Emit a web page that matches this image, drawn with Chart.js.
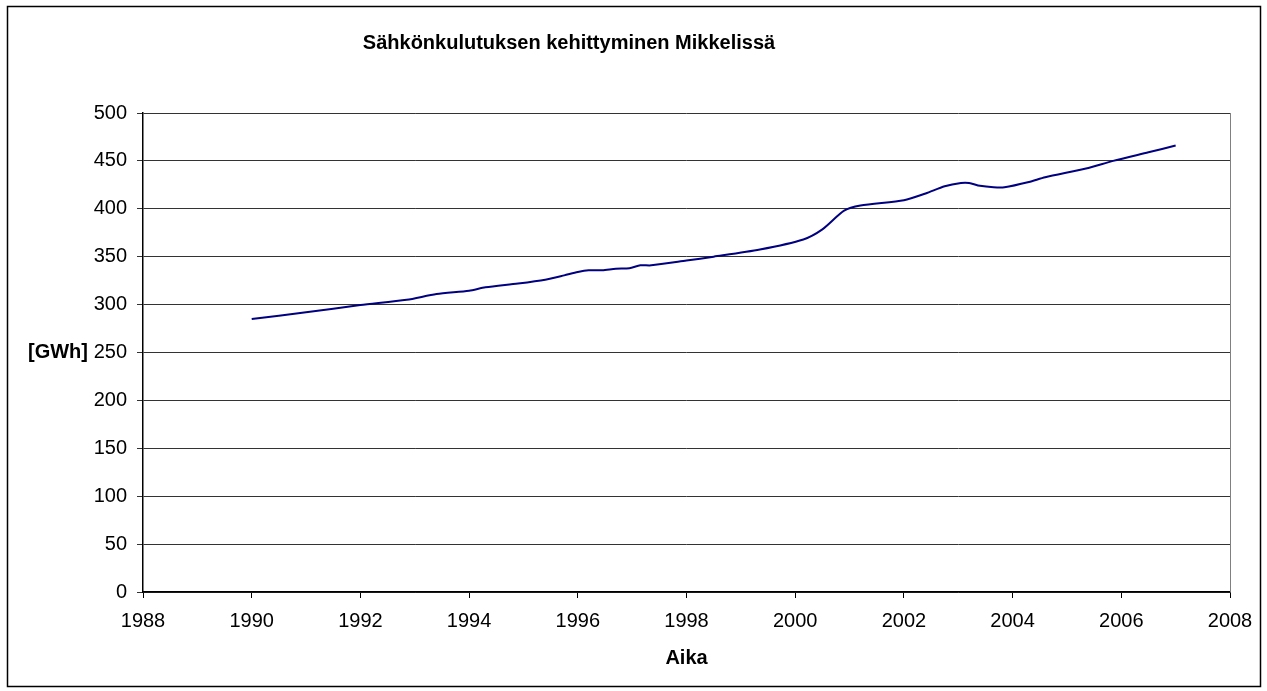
<!DOCTYPE html>
<html>
<head>
<meta charset="utf-8">
<script src="https://cdn.jsdelivr.net/npm/chart.js@4/dist/chart.umd.min.js"></script>
<style>
  html, body { margin: 0; padding: 0; background: #fff; }
  #wrap { position: relative; width: 1267px; height: 691px; }
</style>
</head>
<body>
<div id="wrap"><canvas id="consumptionChart"></canvas></div>
<script>
// values
const years = [1990.0, 1991.0, 1992.0, 1992.85, 1993.4, 1994.0, 1994.3, 1994.9, 1995.4, 1995.75,
  1996.0, 1996.2, 1996.45, 1996.7, 1996.95, 1997.15, 1997.35, 1998.0, 1998.5, 1999.35,
  2000.15, 2000.5, 2000.9, 2001.2, 2002.0, 2002.4, 2002.75, 2003.05, 2003.2, 2003.4,
  2003.65, 2003.85, 2004.3, 2004.6, 2005.35, 2005.85, 2006.5, 2007.0];
const gwh = [285, 292, 299.5, 305, 311, 314.5, 318, 322, 326, 330.5,
  334, 335.8, 335.8, 337.5, 338, 341, 341, 346, 350, 357.5,
  368, 378.5, 398, 403.5, 409, 416, 423.5, 427, 427, 424,
  422.5, 422.5, 428, 433, 442, 450, 459, 466];

const xTicks = [1988, 1990, 1992, 1994, 1996, 1998, 2000, 2002, 2004, 2006, 2008];
const yTicks = [0, 50, 100, 150, 200, 250, 300, 350, 400, 450, 500];

const chartTitle = "Sähkönkulutuksen kehittyminen Mikkelissä";
const yTitle = "[GWh]";
const xTitle = "Aika";

const FONT = '"Liberation Sans", Arial, sans-serif';

const frame = {
  id: "frame",
  afterDraw(chart) {
    const { ctx, chartArea } = chart;
    ctx.save();
    // right edge of the plot area
    ctx.strokeStyle = "#808080";
    ctx.lineWidth = 1;
    ctx.beginPath();
    ctx.moveTo(chartArea.right + 0.5, chartArea.top);
    ctx.lineTo(chartArea.right + 0.5, chartArea.bottom);
    ctx.stroke();
    // outer box
    ctx.strokeStyle = "#000";
    ctx.lineWidth = 1.5;
    ctx.strokeRect(7.5, 6.5, 1253, 680);
    // texts
    ctx.fillStyle = "#000";
    ctx.textBaseline = "middle";
    ctx.textAlign = "center";
    ctx.font = "bold 20px " + FONT;
    ctx.fillText(chartTitle, 569, 43);
    ctx.fillText(xTitle, (chartArea.left + chartArea.right) / 2, 658);
    ctx.textAlign = "right";
    ctx.fillText(yTitle, 88, (chartArea.top + chartArea.bottom) / 2);
    ctx.restore();
  },
};

const ctx = document.getElementById("consumptionChart");
new Chart(ctx, {
  type: "line",
  data: {
    datasets: [
      {
        label: "GWh",
        data: years.map((y, i) => ({ x: y, y: gwh[i] })),
        borderColor: "#000080",
        borderWidth: 2,
        pointRadius: 0,
        tension: 0.25,
        fill: false,
      },
    ],
  },
  options: {
    responsive: true,
    maintainAspectRatio: false,
    animation: false,
    layout: { padding: { top: 113, right: 37, left: 0, bottom: 0 } },
    plugins: {
      legend: { display: false },
      tooltip: { enabled: false },
    },
    scales: {
      x: {
        type: "linear",
        min: 1988,
        max: 2008,
        afterBuildTicks: (scale) => {
          scale.ticks = xTicks.map((v) => ({ value: v }));
        },
        afterFit: (scale) => {
          scale.height = 99;
        },
        ticks: {
          color: "#000",
          font: { family: FONT, size: 20 },
          padding: 11,
          maxRotation: 0,
          autoSkip: false,
          callback: (v) => String(v),
        },
        grid: {
          drawOnChartArea: false,
          drawTicks: true,
          tickLength: 6,
          color: "#000",
        },
        border: { display: true, color: "#000", width: 1.5 },
      },
      y: {
        min: 0,
        max: 500,
        afterBuildTicks: (scale) => {
          scale.ticks = yTicks.map((v) => ({ value: v }));
        },
        afterFit: (scale) => {
          scale.width = 143;
        },
        ticks: {
          color: "#000",
          font: { family: FONT, size: 20 },
          padding: 10,
        },
        grid: {
          color: "#333",
          lineWidth: 1,
          drawTicks: true,
          tickLength: 6,
        },
        border: { display: true, color: "#000", width: 1.5 },
      },
    },
  },
  plugins: [frame],
});
</script>
</body>
</html>
